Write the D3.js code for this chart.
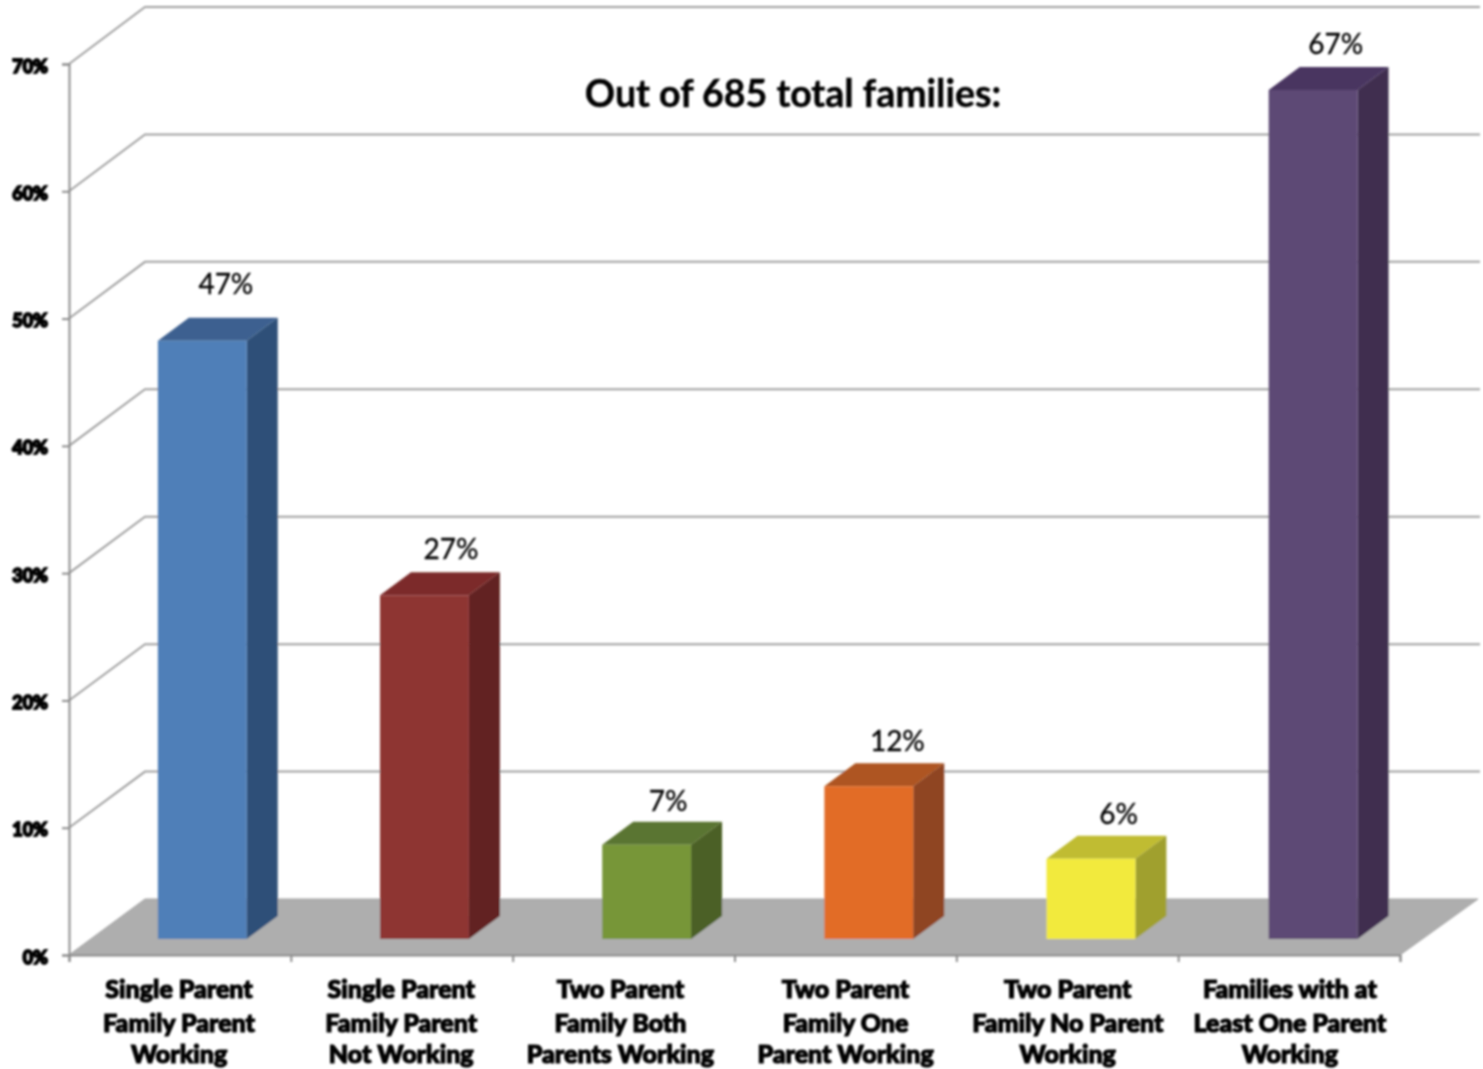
<!DOCTYPE html>
<html>
<head>
<meta charset="utf-8">
<script src="https://cdn.jsdelivr.net/npm/d3@7"></script>
<style>
    body { margin: 0; background: #fff; }
    text { font-family: Lato, "Open Sans", sans-serif; }
</style>
</head>
<body>
<svg id="chart"></svg>
<script>
// category labels, one entry per printed line
var categories = ["single-working", "single-not-working", "two-both", "two-one", "two-none", "at-least-one"];
var categoryLines = [
    ["Single Parent", "Family Parent", "Working"],
    ["Single Parent", "Family Parent", "Not Working"],
    ["Two Parent", "Family Both", "Parents Working"],
    ["Two Parent", "Family One", "Parent Working"],
    ["Two Parent", "Family No Parent", "Working"],
    ["Families with at", "Least One Parent", "Working"]
];
// labels round these to whole percents
var values = [47, 27, 7.4, 12, 6.3, 66.7];
var yTicks = [0, 10, 20, 30, 40, 50, 60, 70];
var frontColors = ["#4f7fb8", "#8e3533", "#779639", "#e26c27", "#f2ea3c", "#5d4874"];
var topColors = ["#3c6090", "#7c2c2a", "#5a7430", "#ae5420", "#c0bc30", "#4a3660"];
var sideColors = ["#2f5078", "#622322", "#4b6128", "#8f4520", "#a0a02e", "#3f2f50"];
var title = "Out of 685 total families:";

var width = 1483, height = 1069;

var svg = d3.select("#chart")
    .attr("width", width)
    .attr("height", height);

// the reference is a soft upscaled image, so blur everything slightly
var filter = svg.append("defs").append("filter").attr("id", "soft");
filter.append("feGaussianBlur").attr("stdDeviation", 0.9);

var g = svg.append("g").attr("filter", "url(#soft)");

var y = d3.scaleLinear().domain([0, 70]).range([955, 64]);
// back wall is a touch taller than the front edge of the box
var yBack = d3.scaleLinear().domain([0, 70]).range([899, 7]);
var x = d3.scaleBand().domain(categories).range([69, 1402]);
var xEdges = d3.scaleLinear().domain([0, categories.length]).range([69, 1400]);

// wall depth of the 3D box and depth of each bar
var wallDx = 76;
var barDx = 31, barDy = -23;
var baseLift = 16;
var barWidth = x.bandwidth() * 0.4;
var barLeft = function (c) { return x(c) + x.bandwidth() * 0.4; };
var barBase = function () { return y(0) - baseLift; };
var barTop = function (v) { return y(v) - baseLift; };

// floor
g.append("path")
    .attr("d", "M" + [69, y(0)] + "L" + [69 + wallDx, yBack(0)] + "L" + [1400 + wallDx + 2, yBack(0)] + "L" + [1400, y(0)] + "Z")
    .attr("fill", "#aeaeae")
    .attr("stroke", "#a4a4a4")
    .attr("stroke-width", 1);

// gridlines, side wall and back wall
var grid = g.selectAll(".grid")
    .data(yTicks.filter(function (d) { return d > 0; }))
    .enter()
    .append("path")
    .attr("class", "grid")
    .attr("d", function (d) {
        return "M" + [69, y(d)] + "L" + [69 + wallDx, yBack(d)] + "L" + [1480, yBack(d)];
    })
    .attr("fill", "none")
    .attr("stroke", "#a0a0a0")
    .attr("stroke-width", 2);

// axes
var yAxis = g.append("g")
    .attr("transform", "translate(69,0)")
    .call(d3.axisLeft(y).tickValues(yTicks).tickSize(7).tickPadding(14).tickFormat(function (d) { return d + "%"; }));

var xAxis = g.append("g")
    .attr("transform", "translate(0," + y(0) + ")")
    .call(d3.axisBottom(xEdges).ticks(categories.length).tickSize(7).tickFormat(""));

g.selectAll(".domain, .tick line")
    .attr("stroke", "#8c8c8c")
    .attr("stroke-width", 2);

yAxis.selectAll("text")
    .attr("dy", "0.45em")
    .attr("font-size", 18)
    .attr("font-weight", 900)
    .attr("fill", "#000")
    .attr("stroke", "#000")
    .attr("stroke-width", 1.8);

// bars
var bars = g.selectAll(".bar")
    .data(values)
    .enter()
    .append("g")
    .attr("class", "bar");

bars.append("path")
    .attr("d", function (d, i) {
        var l = barLeft(categories[i]), t = barTop(d);
        return "M" + [l, t] + "L" + [l + barDx, t + barDy] + "L" + [l + barWidth + barDx, t + barDy] + "L" + [l + barWidth, t] + "Z";
    })
    .attr("fill", function (d, i) { return topColors[i]; });

bars.append("path")
    .attr("d", function (d, i) {
        var r = barLeft(categories[i]) + barWidth, t = barTop(d), b = barBase();
        return "M" + [r, t] + "L" + [r + barDx, t + barDy] + "L" + [r + barDx, b + barDy] + "L" + [r, b] + "Z";
    })
    .attr("fill", function (d, i) { return sideColors[i]; });

bars.append("rect")
    .attr("x", function (d, i) { return barLeft(categories[i]); })
    .attr("y", function (d) { return barTop(d); })
    .attr("width", barWidth)
    .attr("height", function (d) { return barBase() - barTop(d); })
    .attr("fill", function (d, i) { return frontColors[i]; });

// value labels were placed by hand in the original, so a few sit off the pattern
var labelNudgeX = [-2, 1, -4, 3, 2, -3];
var labelNudgeY = [-11, 0, 2, 1, 1, 0];

g.selectAll(".value")
    .data(values)
    .enter()
    .append("text")
    .attr("class", "value")
    .attr("x", function (d, i) { return barLeft(categories[i]) + 70 + labelNudgeX[i]; })
    .attr("y", function (d, i) { return barTop(d) + barDy - 23 + labelNudgeY[i]; })
    .attr("dy", ".35em")
    .attr("text-anchor", "middle")
    .attr("font-size", 28)
    .attr("fill", "#000")
    .attr("stroke", "#000")
    .attr("stroke-width", 0.3)
    .text(function (d) { return d3.format(".0f")(d) + "%"; });

// category labels
var lineY = [989, 1023, 1054];
var labelShift = [0, 0, -3, 0, 0, 0];

g.selectAll(".cat")
    .data(categories)
    .enter()
    .append("g")
    .attr("class", "cat")
    .each(function (c, i) {
        d3.select(this).selectAll("text")
            .data(categoryLines[i])
            .enter()
            .append("text")
            .attr("x", x(c) + x.bandwidth() / 2 - 1 + labelShift[i])
            .attr("y", function (d, j) { return lineY[j]; })
            .attr("dy", ".35em")
            .attr("text-anchor", "middle")
            .attr("font-size", 25)
            .attr("font-weight", 900)
            .attr("fill", "#000")
            .attr("stroke", "#000")
            .attr("stroke-width", 1.2)
            .text(function (d) { return d; });
    });

// title
g.append("text")
    .attr("x", 793)
    .attr("y", 94)
    .attr("dy", ".35em")
    .attr("text-anchor", "middle")
    .attr("font-size", 37.5)
    .attr("font-weight", 700)
    .attr("fill", "#000")
    .attr("stroke", "#000")
    .attr("stroke-width", 0.4)
    .text(title);
</script>
</body>
</html>
